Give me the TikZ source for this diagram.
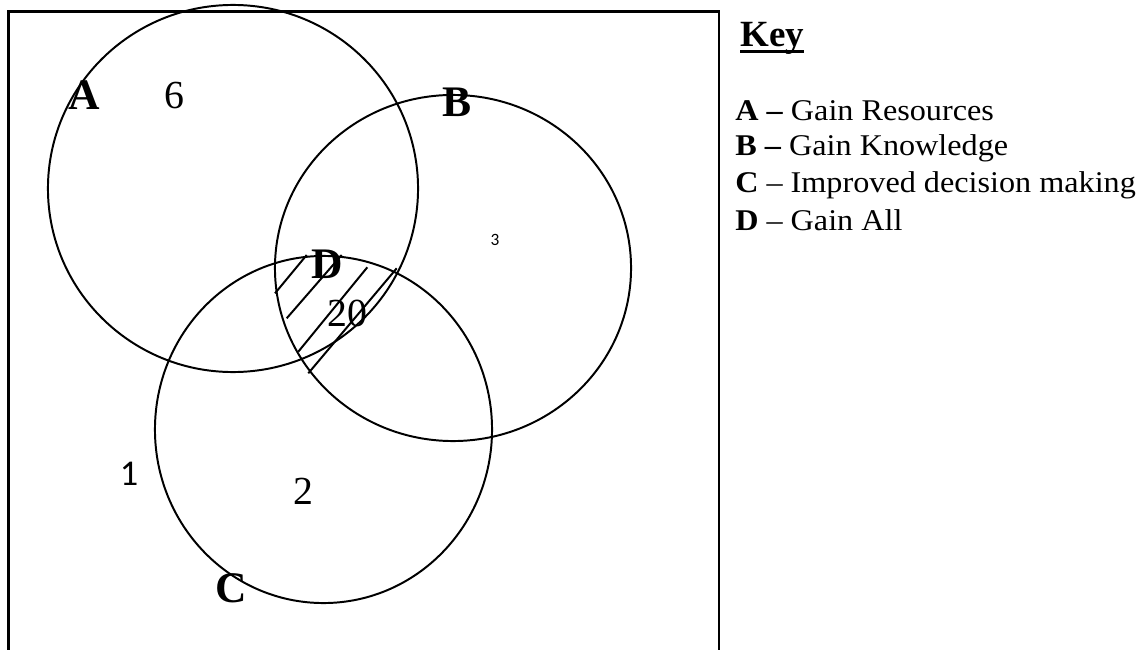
\documentclass[tikz,border=0pt]{standalone}
\usepackage{fontspec}
\setmainfont{Liberation Serif}
\newfontfamily\calibri{Carlito}
\newfontfamily\keyfont[FakeStretch=1.07]{Liberation Serif}
\usetikzlibrary{positioning}

\begin{document}
\begin{tikzpicture}[
    x=0.025cm, y=-0.025cm,
    setring/.style={line width=1.4pt},
    setname/.style={inner sep=0pt, font=\fontsize{31}{31}\selectfont\bfseries},
    count/.style={inner sep=0pt, font=\fontsize{28.3}{28}\selectfont},
    sanscount/.style={inner sep=0pt, font=\calibri\fontsize{25.8}{26}\selectfont},
    hatch/.style={line width=1.4pt},
    keytitle/.style={anchor=base west, inner sep=0pt, font=\fontsize{26.3}{26}\selectfont\bfseries},
    keyline/.style={anchor=base west, inner sep=0pt, font=\keyfont\fontsize{21.4}{24}\selectfont}
]
    \useasboundingbox (0,0) rectangle (1139,650);

    % Frame, open at the bottom
    \coordinate (frame-bl) at (8.5,650);
    \coordinate (frame-tr) at (719,11.5);
    \coordinate (frame-br) at (719,650);
    \draw[line width=1.8pt] (frame-bl) |- (frame-tr) -- (frame-br);

    % Circles
    \coordinate (a-centre) at (233,188.5);
    \coordinate (b-centre) at (453,268);
    \coordinate (c-centre) at (323.5,429.5);
    \draw[setring] (a-centre) ellipse [x radius=4.625cm, y radius=4.5875cm];
    \draw[setring] (b-centre) ellipse [x radius=4.45cm, y radius=4.325cm];
    \draw[setring] (c-centre) ellipse [x radius=4.2125cm, y radius=4.3375cm];

    % Hatching of the centre region
    \draw[hatch] (275,293.3) -- (306.7,255);
    \draw[hatch] (286.7,318.3) -- (341.7,255);
    \draw[hatch] (298.3,351.7) -- (367.3,267.3);
    \draw[hatch] (308.3,373.3) -- (396.7,268.3);

    % Set labels and counts
    \node[setname] (label-a) at (84,95) {A};
    \node[count] (count-a) at (174,96) {6};
    \node[setname] (label-b) at (457,102) {B};
    \node[sanscount, font=\calibri\fontsize{12.3}{12}\selectfont] (count-b) at (495,240) {3};
    \node[setname] (label-d) at (327,264) {D};
    \node[count] (count-d) at (347,313) {20};
    \node[sanscount] (count-out) at (129,474) {1};
    \node[count] (count-c) at (303,491) {2};
    \node[setname] (label-c) at (231,588) {C};

    % Key
    \node[keytitle] (key-title) at (740,47) {Key};
    \draw[line width=2.2pt] ([yshift=-3.2pt]key-title.base west) -- ([yshift=-3.2pt]key-title.base east);
    \node[keyline] (key-a) at (735,120) {\textbf{A –} Gain Resources};
    \node[keyline] (key-b) at (735,155) {\textbf{B –} Gain Knowledge};
    \node[keyline] (key-c) at (735,192) {\textbf{C} – Improved decision making};
    \node[keyline] (key-d) at (735,230) {\textbf{D} – Gain All};
\end{tikzpicture}
\end{document}
